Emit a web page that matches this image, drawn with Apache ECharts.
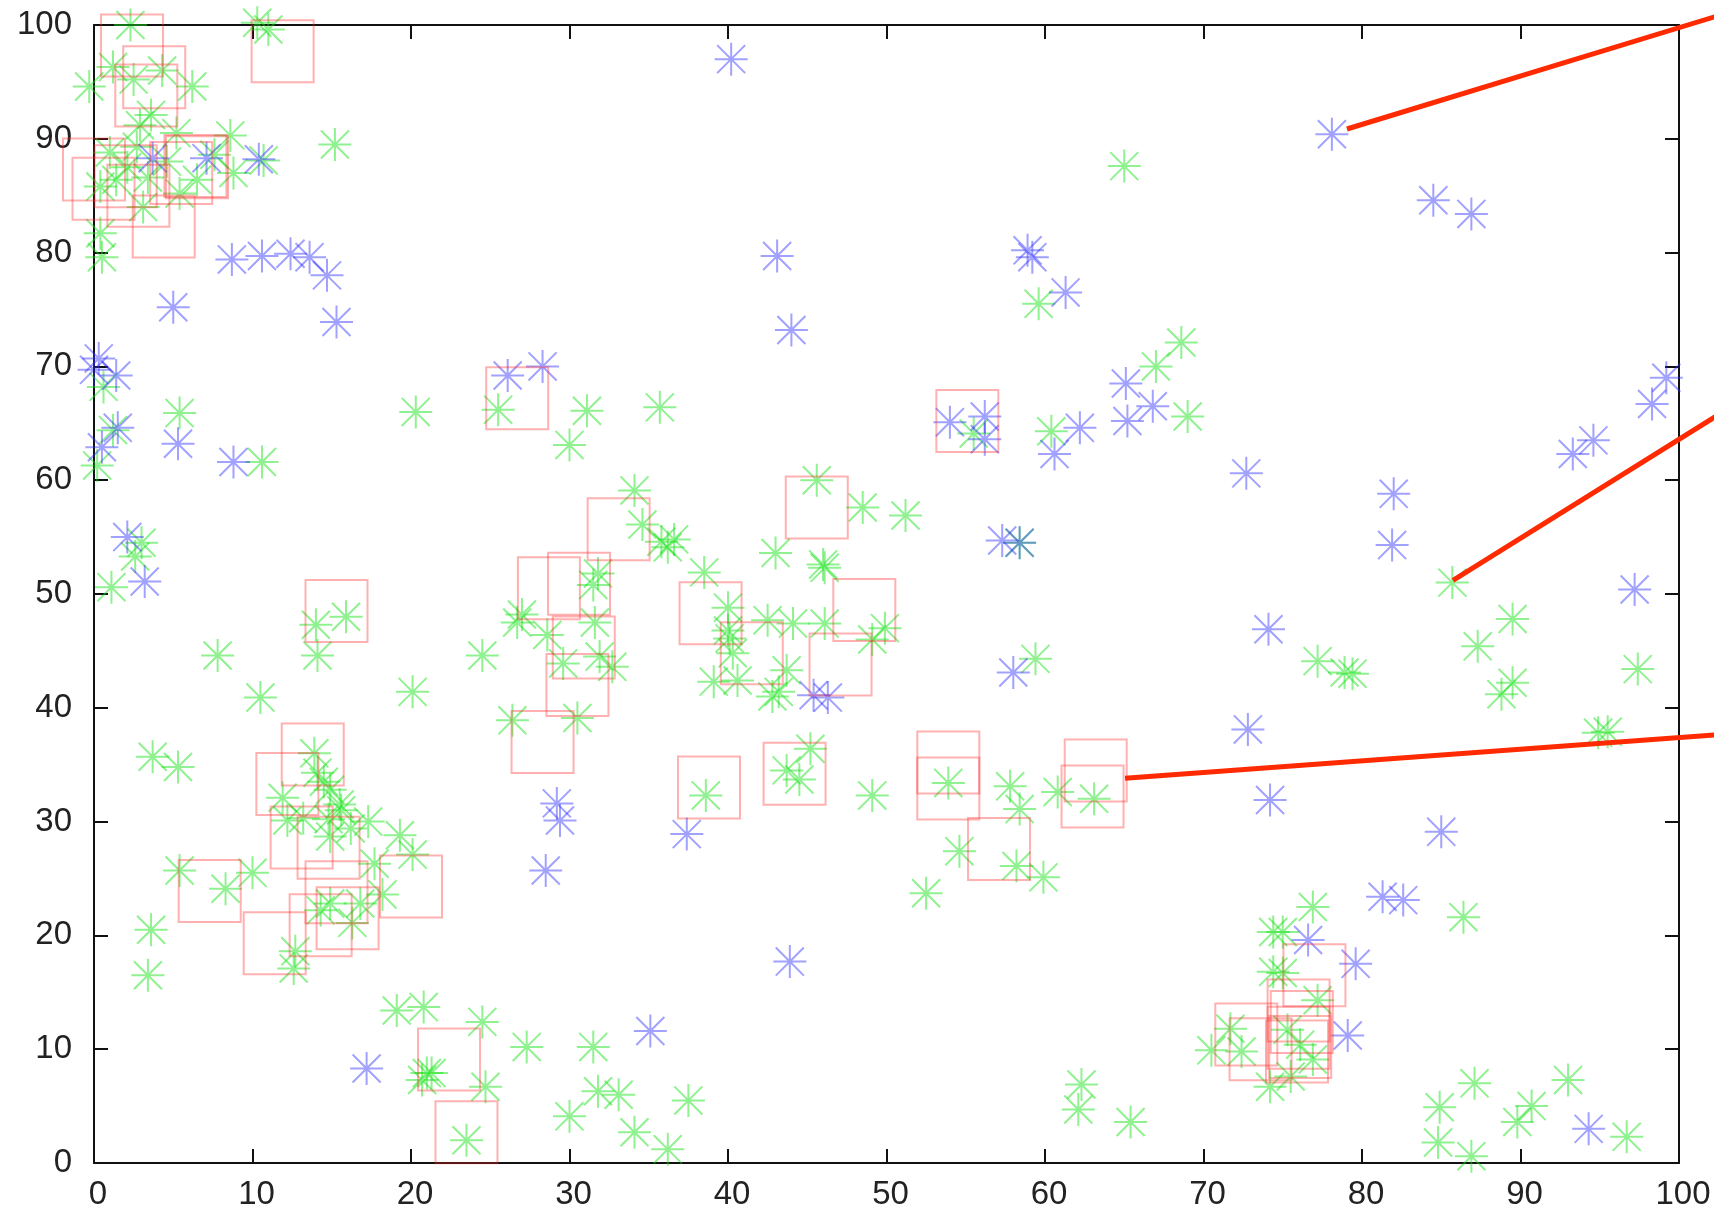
<!DOCTYPE html>
<html><head><meta charset="utf-8">
<script src="https://cdn.jsdelivr.net/npm/echarts@6/dist/echarts.min.js"></script>
<style>html,body{margin:0;padding:0;background:#fff}#c{width:1714px;height:1218px}</style>
</head><body><div id="c"></div>
<script>
const xTicks = [0,10,20,30,40,50,60,70,80,90,100];
const yTicks = [0,10,20,30,40,50,60,70,80,90,100];

const greenPts = [
[2.3,100.0],[10.3,100.2],[11.0,99.6],[1.2,96.3],[-0.3,94.6],[4.3,96.0],[2.5,95.2],[6.2,94.6],[3.6,92.1],[2.9,91.2],[5.2,90.5],[8.6,90.3],[15.2,89.5],[10.7,88.1],[8.8,87.0],[6.5,86.4],[5.4,85.2],[3.1,84.0],[1.4,86.4],[0.4,85.8],[2.1,87.5],[2.7,89.3],[0.4,81.7],[0.5,79.6],[4.6,88.0],[3.4,86.6],[1.0,88.8],[7.6,88.6],
[0.6,68.2],[5.4,65.9],[20.3,66.0],[0.2,61.3],[1.2,64.4],[10.6,61.6],[3.0,54.5],[2.6,53.3],[1.1,50.6],[14.0,47.3],[15.9,48.0],[14.1,44.6],[7.8,44.6],[10.5,40.9],[20.1,41.4],[3.7,35.7],[5.3,34.8],
[13.9,36.0],[14.1,34.3],[14.9,32.8],[11.9,32.1],[14.5,33.5],[15.5,31.5],[13.2,30.3],[12.2,30.1],[14.9,28.7],[16.2,29.4],[17.3,30.0],[19.3,28.8],[20.1,27.1],[17.7,26.3],[18.2,23.6],[16.3,21.1],[14.9,22.8],[14.3,22.2],[16.8,22.8],[5.4,25.7],[8.3,24.1],[10.0,25.5],[3.6,20.5],[3.4,16.5],[12.7,18.6],[12.6,17.1],[19.1,13.4],[20.8,13.7],[21.0,7.9],[20.7,7.3],[21.3,7.9],[24.7,6.7],[24.5,12.4],[27.3,10.2],[31.5,10.2],[23.5,2.0],[30.0,4.1],[31.8,6.3],[33.1,6.0],[37.5,5.5],[34.1,2.7],[36.2,1.2],[15.6,31.0],[14.8,30.2],
[25.5,66.2],[31.1,66.1],[35.7,66.4],[30.0,63.1],[34.1,59.1],[34.6,56.1],[36.2,54.1],[35.8,54.6],[36.6,54.8],[38.5,51.9],[45.6,60.0],[43.0,53.6],[46.1,52.3],[46.0,52.6],[48.5,57.6],[51.2,56.9],[31.5,50.8],[31.8,51.8],[27.0,48.2],[26.7,47.5],[28.6,46.4],[31.6,47.5],[31.9,44.5],[32.7,43.6],[29.6,43.9],[24.5,44.6],[26.4,38.9],[30.5,39.1],[40.0,48.8],[40.0,46.8],[40.1,46.1],[40.3,44.8],[42.5,47.7],[44.1,47.4],[46.1,47.4],[39.1,42.3],[40.6,42.4],[43.2,41.4],[43.7,43.3],[42.8,41.0],[38.6,32.3],[43.7,34.5],[44.5,33.7],[45.2,36.4],[49.9,47.0],[49.1,46.0],[49.1,32.3],[53.9,33.4],[54.6,27.4],[52.5,23.7],[58.2,26.1],[59.9,25.1],[57.8,33.1],[58.4,31.1],[60.8,32.6],[63.1,32.0],
[65.0,87.6],[59.6,75.5],[68.6,72.1],[67.0,70.0],[69.0,65.6],[60.4,64.3],[55.5,64.1],[58.4,54.5],[59.4,44.3],[77.2,44.1],[78.9,43.1],[79.4,43.0],[85.7,51.0],[89.5,47.8],[87.3,45.4],[89.5,42.2],[88.8,41.2],[97.4,43.4],[94.9,37.8],[95.5,37.9],
[62.3,6.9],[62.1,4.7],[65.4,3.6],[70.5,9.9],[71.7,11.8],[72.4,9.8],[74.2,6.7],[74.4,20.3],[74.4,16.8],[76.9,22.5],[75.0,20.3],[75.0,16.7],[77.2,14.3],[75.3,11.7],[76.1,10.4],[76.9,9.1],[75.5,7.6],[86.4,21.6],[84.9,4.9],[84.8,1.8],[86.9,0.6],[87.1,7.0],[89.8,3.6],[90.7,5.0],[93.0,7.3],[96.7,2.3]
];

const bluePts = [
[40.2,97.0],[78.1,90.4],[84.5,84.6],[86.9,83.4],[99.2,69.0],[98.3,66.7],[94.6,63.5],[93.3,62.3],[82.0,58.8],[81.9,54.3],[97.2,50.4],[74.1,46.9],[74.2,31.9],[85.0,29.1],[81.3,23.4],[82.6,23.1],[76.6,19.6],[79.6,17.5],[79.1,11.2],[94.3,3.0],[72.7,60.6],[72.8,38.1],[58.0,43.1],[57.3,54.7],[58.4,54.5],[54.0,65.1],[56.2,65.6],[56.2,63.6],[60.6,62.3],[62.2,64.6],[65.2,65.2],[66.8,66.5],[58.9,80.2],[59.2,79.6],[61.3,76.5],[65.1,68.5],[43.1,79.7],[44.0,73.2],[26.1,69.2],[28.3,70.0],[3.7,88.3],[7.1,88.3],[10.4,88.2],[8.7,79.4],[10.6,79.7],[12.4,79.9],[13.6,79.6],[14.7,78.0],[15.3,73.9],[5.0,75.2],[0.3,70.7],[1.4,69.2],[0.0,69.7],[1.5,64.6],[0.5,62.9],[5.3,63.2],[8.8,61.6],[2.1,55.0],[3.2,51.1],[17.2,8.3],[29.2,31.6],[29.4,30.1],[37.4,28.9],[28.5,25.7],[43.9,17.7],[35.1,11.6],[45.4,41.1],[46.3,40.9]
];

const squarePts = [
[2.4,98.2],[11.9,97.7],[3.8,95.4],[3.3,93.8],[6.4,87.6],[6.5,87.5],[5.5,87.0],[4.4,82.3],[0.0,87.3],[0.6,85.6],[2.0,86.7],[2.8,85.0],[15.3,48.5],[13.8,35.9],[12.2,33.3],[7.3,23.9],[11.4,19.3],[14.3,20.9],[13.1,28.6],[14.8,27.7],[15.3,23.8],[16.0,21.5],[20.0,24.3],[22.4,9.1],[23.5,2.7],[26.7,67.2],[33.1,55.7],[28.7,50.5],[30.6,50.9],[30.9,45.3],[30.5,42.0],[28.3,37.0],[38.9,48.3],[41.5,44.8],[45.6,57.6],[48.6,48.6],[47.1,43.8],[38.8,33.0],[44.2,34.2],[55.1,65.2],[53.9,35.2],[53.9,32.9],[63.2,34.5],[63.0,32.2],[57.1,27.6],[72.7,11.3],[73.6,10.0],[77.0,16.5],[76.0,13.4],[76.2,12.4],[76.0,11.0],[76.1,10.2],[75.9,9.8]
];

const callout1 = [[79.05,90.86],[103,101.04]];
const callout2 = [[85.74,51.2],[103,66.2]];
const callout3 = [[65.05,33.8],[103,37.7]];

const star = 'path://M0,-1L0,1M-1,0L1,0M-0.85,-0.85L0.85,0.85M-0.85,0.85L0.85,-0.85';
const font = '"Liberation Sans", Arial, Helvetica, sans-serif';

const G = {left:94, right:35, top:25, bottom:55};
const W = 1714, H = 1218;
const plotW = W - G.left - G.right, plotH = H - G.top - G.bottom;
const extXMax = 100 * (W - G.left) / plotW;
const extYMax = 100 * (H - G.bottom) / plotH;

function axisX(pos, show){
  return {type:'value', gridIndex:0, position:pos, min:0, max:100, interval:10,
    axisLine:{show:true, onZero:false, lineStyle:{color:'#111', width:2}},
    axisTick:{show:true, inside:true, length:14, lineStyle:{color:'#111', width:2}},
    axisLabel:{show:show, margin:15, fontSize:33, color:'#222', fontFamily:font, padding:[0,0,0,8],
      formatter:v=> xTicks.includes(v) ? String(v) : ''},
    splitLine:{show:false}};
}
function axisY(pos, show){
  return {type:'value', gridIndex:0, position:pos, min:0, max:100, interval:10,
    axisLine:{show:true, onZero:false, lineStyle:{color:'#111', width:2}},
    axisTick:{show:true, inside:true, length:14, lineStyle:{color:'#111', width:2}},
    axisLabel:{show:show, margin:22, fontSize:33, color:'#222', fontFamily:font, padding:[14,0,0,0],
      formatter:v=> yTicks.includes(v) ? String(v) : ''},
    splitLine:{show:false}};
}
function hiddenAxis(max){
  return {type:'value', gridIndex:1, min:0, max:max, show:false,
    axisLine:{show:false}, axisTick:{show:false}, axisLabel:{show:false}, splitLine:{show:false}};
}
function callout(d){
  return {type:'line', data:d, xAxisIndex:2, yAxisIndex:2, clip:false, symbol:'none', silent:true, z:10,
    lineStyle:{color:'#ff2a00', width:5}};
}

const chart = echarts.init(document.getElementById('c'), null, {renderer:'canvas'});
chart.setOption({
  animation:false,
  backgroundColor:'#fff',
  grid:[G, {left:G.left, right:0, top:0, bottom:G.bottom}],
  xAxis:[axisX('bottom', true), axisX('top', false), hiddenAxis(extXMax)],
  yAxis:[axisY('left', true), axisY('right', false), hiddenAxis(extYMax)],
  series:[
    {type:'scatter', data:greenPts, symbol:star, symbolSize:33, clip:false, silent:true,
      itemStyle:{color:'rgba(0,0,0,0)', borderColor:'rgba(20,225,20,0.6)', borderWidth:2}},
    {type:'scatter', data:bluePts, symbol:star, symbolSize:33, clip:false, silent:true,
      itemStyle:{color:'rgba(0,0,0,0)', borderColor:'rgba(40,40,255,0.55)', borderWidth:2}},
    {type:'scatter', data:squarePts, symbol:'rect', symbolSize:62, clip:false, silent:true,
      itemStyle:{color:'rgba(0,0,0,0)', borderColor:'rgba(255,40,40,0.45)', borderWidth:2}},
    callout(callout1), callout(callout2), callout(callout3)
  ]
});
</script></body></html>
